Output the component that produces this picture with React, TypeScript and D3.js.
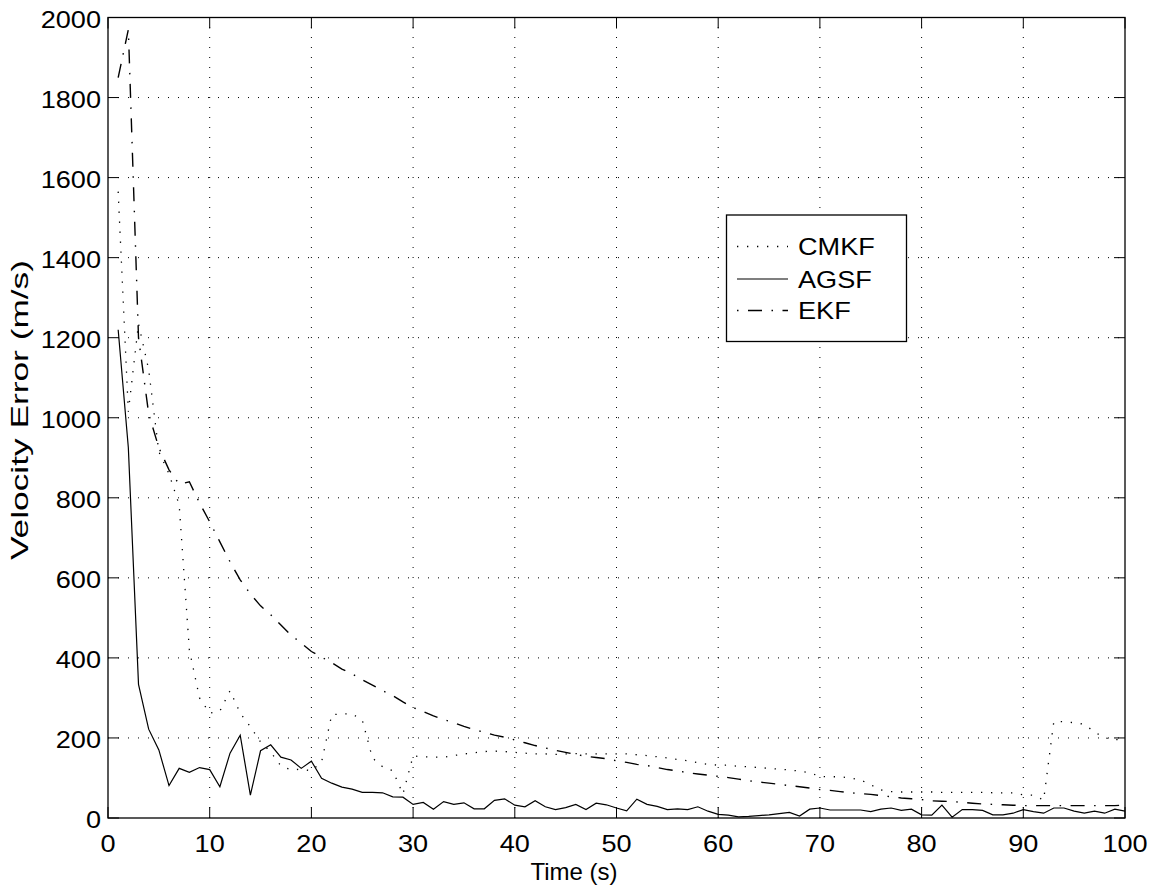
import React from "react";
import * as d3 from "d3";

const timeS = [
  1, 2, 3, 4, 5, 6, 7, 8, 9, 10, 11, 12, 13, 14, 15, 16, 17, 18, 19, 20,
  21, 22, 23, 24, 25, 26, 27, 28, 29, 30, 31, 32, 33, 34, 35, 36, 37, 38, 39, 40,
  41, 42, 43, 44, 45, 46, 47, 48, 49, 50, 51, 52, 53, 54, 55, 56, 57, 58, 59, 60,
  61, 62, 63, 64, 65, 66, 67, 68, 69, 70, 71, 72, 73, 74, 75, 76, 77, 78, 79, 80,
  81, 82, 83, 84, 85, 86, 87, 88, 89, 90, 91, 92, 93, 94, 95, 96, 97, 98, 99, 100,
];

const cmkf = [
  1565, 1015, 1235, 1120, 915, 860, 782, 420, 300, 262,
  267, 318, 262, 228, 190, 165, 130, 120, 122, 118,
  140, 258, 260, 260, 245, 150, 128, 118, 60, 155,
  153, 152, 152, 156, 160, 163, 166, 167, 166, 164,
  162, 160, 160, 159, 160, 161, 160, 160, 160, 160,
  160, 158, 156, 153, 150, 146, 143, 138, 134, 132,
  132, 129, 128, 126, 124, 122, 120, 117, 113, 104,
  103, 103, 100, 95, 83, 70, 66, 65, 65, 65,
  65, 64, 64, 64, 64, 64, 63, 63, 63, 58,
  57, 45, 241, 241, 238, 234, 215, 200, 196, 195,
];

const agsf = [
  1220, 925, 334, 222, 170, 81, 124, 114, 126, 121,
  78, 162, 207, 57, 168, 183, 152, 145, 124, 142,
  99, 87, 77, 72, 64, 64, 63, 53, 52, 34,
  39, 22, 41, 34, 38, 23, 23, 44, 48, 32,
  28, 43, 28, 21, 26, 34, 21, 37, 33, 25,
  18, 47, 34, 29, 21, 23, 21, 28, 17, 9,
  7, 3, 4, 6, 8, 11, 14, 5, 22, 25,
  20, 20, 20, 20, 16, 22, 25, 19, 22, 8,
  7, 32, 2, 21, 21, 19, 8, 8, 12, 21,
  16, 12, 25, 25, 17, 12, 17, 12, 22, 17,
];

const ekf = [
  1850, 1970, 1200, 1010, 925, 870, 834, 840, 787, 740,
  690, 640, 595, 560, 530, 508, 482, 457, 437, 416,
  402, 388, 372, 360, 345, 332, 318, 306, 290, 276,
  266, 255, 246, 238, 229, 221, 214, 207, 202, 195,
  188, 181, 175, 169, 164, 159, 154, 151, 148, 143,
  139, 134, 131, 126, 121, 118, 113, 110, 107, 104,
  101, 97, 93, 90, 87, 84, 81, 78, 75, 71,
  69, 66, 63, 61, 59, 56, 53, 50, 48, 46,
  43, 42, 41, 39, 37, 35, 34, 33, 32, 31,
  31, 31, 31, 31, 31, 31, 31, 31, 31, 32,
];

const xTicks = [0, 10, 20, 30, 40, 50, 60, 70, 80, 90, 100];
const yTicks = [0, 200, 400, 600, 800, 1000, 1200, 1400, 1600, 1800, 2000];
const seriesNames = ["CMKF", "AGSF", "EKF"];
const xLabel = "Time (s)";
const yLabel = "Velocity Error (m/s)";

const FONT = "'Liberation Sans', Arial, Helvetica, sans-serif";
const FS = 24;
const SX = 1.13;
const DOT = "1.3,8.7";
const DASHDOT = "14,9.5,1.5,9.5";

function WideText(props: { x: number; y: number; anchor?: string; children: React.ReactNode; sx?: number; fs?: number }) {
  const { x, y, anchor, children, sx = SX, fs = FS } = props;
  return (
    <text
      transform={`translate(${x},${y}) scale(${sx},1)`}
      textAnchor={anchor || "start"}
      fontSize={fs}
      fill="#000"
    >
      {children}
    </text>
  );
}

export default function App() {
  const W = 1157;
  const H = 895;
  const L = 108, R = 1125, T = 17.5, B = 818;
  const x = d3.scaleLinear().domain([0, 100]).range([L, R]);
  const y = d3.scaleLinear().domain([0, 2000]).range([B, T]);
  const tick = 11;

  const line = (vals: number[]) =>
    d3
      .line<number>()
      .x((_, i) => x(timeS[i]))
      .y((v) => y(v))(vals) as string;

  const styles = [
    { d: cmkf, dash: DOT, w: 1.3 },
    { d: agsf, dash: undefined, w: 1.2 },
    { d: ekf, dash: DASHDOT, w: 1.4 },
  ];

  const legX0 = 726.5, legY0 = 215, legX1 = 906.5, legY1 = 341.5;
  const legRows = [246.5, 279, 310.5];

  return (
    <svg
      width={W}
      height={H}
      style={{ position: "absolute", left: 0, top: 0, background: "#fff" }}
      fontFamily={FONT}
    >
      <rect x={0} y={0} width={W} height={H} fill="#fff" />
      {/* grid */}
      <g stroke="#000" strokeWidth={1} strokeDasharray="1,9" fill="none">
        {xTicks.slice(1, -1).map((t) => (
          <line key={"gx" + t} x1={x(t)} x2={x(t)} y1={B} y2={T} />
        ))}
        {yTicks.slice(1, -1).map((t) => (
          <line key={"gy" + t} x1={L} x2={R} y1={y(t)} y2={y(t)} />
        ))}
      </g>
      {/* ticks */}
      <g stroke="#000" strokeWidth={1}>
        {xTicks.map((t) => (
          <g key={"tx" + t}>
            <line x1={x(t)} x2={x(t)} y1={B} y2={B - tick} />
            <line x1={x(t)} x2={x(t)} y1={T} y2={T + tick} />
          </g>
        ))}
        {yTicks.map((t) => (
          <g key={"ty" + t}>
            <line x1={L} x2={L + tick} y1={y(t)} y2={y(t)} />
            <line x1={R} x2={R - tick} y1={y(t)} y2={y(t)} />
          </g>
        ))}
      </g>
      {/* series */}
      <g fill="none" stroke="#000" strokeLinejoin="miter">
        {styles.map((s, i) => (
          <path key={i} d={line(s.d)} strokeWidth={s.w} strokeDasharray={s.dash} />
        ))}
      </g>
      {/* axes box */}
      <rect x={L} y={T} width={R - L} height={B - T} fill="none" stroke="#000" strokeWidth={1.3} />
      {/* tick labels */}
      {xTicks.map((t) => (
        <WideText key={"lx" + t} x={x(t)} y={852} anchor="middle">
          {t}
        </WideText>
      ))}
      {yTicks.map((t) => (
        <WideText key={"ly" + t} x={101} y={y(t) + 10} anchor="end">
          {t}
        </WideText>
      ))}
      <text x={574} y={880} textAnchor="middle" fontSize={FS} fill="#000">
        {xLabel}
      </text>
      <text
        transform={`translate(28, 410) rotate(-90)`}
        textAnchor="middle"
        fontSize={24}
        textLength={300}
        lengthAdjust="spacingAndGlyphs"
        fill="#000"
      >
        {yLabel}
      </text>
      {/* legend */}
      <rect x={legX0} y={legY0} width={legX1 - legX0} height={legY1 - legY0} fill="#fff" stroke="#000" strokeWidth={1.3} />
      {seriesNames.map((n, i) => (
        <g key={n}>
          <line
            x1={737}
            x2={788}
            y1={legRows[i]}
            y2={legRows[i]}
            stroke="#000"
            strokeWidth={styles[i].w}
            strokeDasharray={styles[i].dash}
            strokeDashoffset={i === 2 ? 23.5 : 0}
          />
          <WideText x={798} y={legRows[i] + 8.5}>
            {n}
          </WideText>
        </g>
      ))}
    </svg>
  );
}
